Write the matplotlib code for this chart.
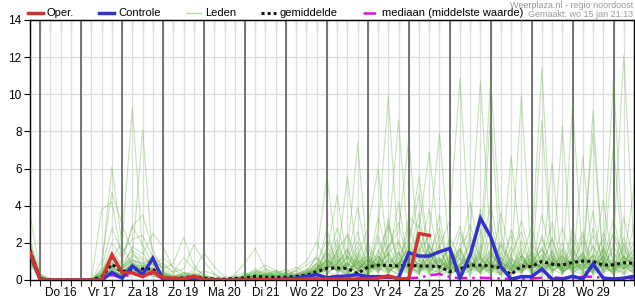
import numpy as np
import pandas as pd
import matplotlib
matplotlib.use("Agg")
from matplotlib import pyplot as plt
from matplotlib.lines import Line2D

plt.rcParams['font.family'] = ['Liberation Sans', 'DejaVu Sans']

# tijdstappen van 6 uur, vanaf wo 15 jan 18:00
times = pd.date_range("2025-01-15 18:00", periods=60, freq="6h")
day_noons = pd.date_range("2025-01-16 12:00", periods=14, freq="D")
midnights = pd.date_range("2025-01-16 00:00", periods=15, freq="D")
day_labels = ["Do 16", "Vr 17", "Za 18", "Zo 19", "Ma 20", "Di 21", "Wo 22",
              "Do 23", "Vr 24", "Za 25", "Zo 26", "Ma 27", "Di 28", "Wo 29"]

# operationele run (loopt tot za 25 12:00)
oper = [1.5, 0, 0, 0, 0, 0, 0, 0, 1.35, 0.4,
        0.38, 0.18, 0.45, 0.12, 0.1, 0.05, 0.2, 0.03, 0, 0,
        0, 0, 0.02, 0.02, 0, 0.02, 0.03, 0.05, 0.05, 0.05,
        0.05, 0.05, 0.05, 0.05, 0.1, 0.23, 0.05, 0.08, 2.5, 2.4]

controle = [1.45, 0, 0, 0, 0, 0, 0, 0, 0.4, 0.1,
            0.75, 0.3, 1.17, 0, 0, 0.02, 0.05, 0, 0, 0,
            0, 0, 0, 0, 0.02, 0.05, 0.1, 0.2, 0.29, 0.12,
            0.18, 0.22, 0.29, 0.18, 0.18, 0.18, 0.1, 1.47, 1.29, 1.29,
            1.52, 1.7, 0.1, 1.35, 3.32, 2.33, 0.72, 0.05, 0.18, 0.18,
            0.59, 0.05, 0.05, 0.2, 0.05, 0.86, 0.1, 0.05, 0.1, 0.2]

gemiddelde = [1.6, 0.05, 0, 0, 0, 0, 0.02, 0.15, 0.85, 0.45,
              0.55, 0.6, 0.6, 0.1, 0.08, 0.12, 0.2, 0.1, 0.05, 0.05,
              0.08, 0.1, 0.2, 0.15, 0.15, 0.15, 0.2, 0.25, 0.45, 0.63,
              0.65, 0.62, 0.35, 0.7, 0.8, 0.78, 0.75, 0.8, 0.75, 0.75,
              0.72, 0.45, 0.6, 0.8, 0.8, 0.75, 0.65, 0.3, 0.75, 0.72,
              1.0, 0.85, 0.8, 0.95, 1.02, 1.0, 0.8, 0.82, 0.93, 0.9]

mediaan = [1.5, 0.02, 0, 0, 0, 0, 0, 0, 0.27, 0.1,
           0.35, 0.2, 0.35, 0.05, 0.02, 0.02, 0.03, 0.02, 0, 0,
           0, 0, 0.02, 0.02, 0.02, 0.02, 0.03, 0.05, 0.1, 0.15,
           0.22, 0.2, 0.1, 0.08, 0.1, 0.12, 0.1, 0.1, 0.12, 0.25,
           0.32, 0.15, 0.1, 0.1, 0.12, 0.1, 0.08, 0.05, 0.05, 0.08,
           0.12, 0.15, 0.1, 0.1, 0.18, 0.18, 0.1, 0.08, 0.05, 0.05]

# ensemble leden
leden = [
    [3.6, 0.3, 0, 0, 0, 0, 0, 0.4, 1.2, 2.0, 9.3, 1.5, 0.6, 0.2, 0, 0.1, 0.3, 0.1, 0, 0,
     0, 0.1, 0.2, 0.3, 0.1, 0, 0.2, 0.4, 0.6, 1.0, 0.8, 0.3, 1.2, 0.5, 2.1, 0.9, 0.4, 1.6, 0.7, 0.3,
     1.1, 0.2, 0.8, 1.9, 0.6, 9.0, 0.7, 0.2, 1.3, 0.5, 0.9, 2.2, 0.4, 0.8, 1.5, 0.3, 0.6, 1.8, 0.9, 1.2],
    [2.0, 0.2, 0, 0, 0, 0, 0, 0.2, 0.9, 0.5, 1.2, 8.1, 1.0, 0.3, 0.1, 0, 0, 0, 0, 0,
     0.1, 0, 0, 0.2, 0.4, 0.2, 0.1, 0.3, 0.9, 0.4, 1.6, 2.4, 0.6, 0.2, 0.9, 1.8, 3.1, 0.7, 0.4, 1.2,
     0.3, 0.5, 2.6, 0.9, 0.4, 1.1, 0.3, 6.65, 1.4, 0.6, 0.2, 0.8, 1.7, 0.5, 0.3, 2.8, 1.0, 0.4, 0.7, 2.1],
    [1.6, 0.1, 0, 0, 0, 0, 0, 0.6, 6.1, 1.8, 0.8, 0.5, 0.3, 0.1, 0, 0, 0.2, 0, 0, 0,
     0, 0, 0.3, 0.1, 0, 0, 0, 0.2, 0.5, 2.8, 0.6, 0.3, 1.1, 0.4, 0.7, 0.3, 1.3, 2.2, 0.5, 0.9,
     3.5, 0.4, 1.2, 0.2, 2.7, 0.6, 0.3, 1.0, 9.9, 0.8, 0.4, 1.6, 0.3, 2.4, 0.7, 0.5, 1.3, 0.2, 3.4, 0.8],
    [1.2, 0.1, 0, 0, 0, 0, 0, 1.0, 4.7, 3.0, 1.5, 0.7, 0.4, 0.2, 0, 0.3, 0.1, 0, 0, 0,
     0, 0.2, 0, 0, 0.1, 0.3, 0.2, 0, 0.3, 0.8, 2.2, 0.5, 0.3, 1.4, 0.6, 2.9, 0.8, 0.4, 1.7, 0.3,
     0.6, 1.3, 0.5, 0.7, 3.8, 0.9, 0.2, 0.6, 0.4, 1.5, 11.4, 0.9, 0.5, 1.2, 2.6, 0.4, 0.8, 1.1, 0.3, 0.6],
    [1.4, 0.2, 0, 0, 0, 0, 0, 3.8, 4.2, 1.0, 2.9, 1.9, 0.8, 0.3, 0.1, 0, 0, 0.1, 0, 0,
     0, 0, 0.1, 0.4, 0.2, 0, 0.3, 0.5, 1.2, 0.4, 0.3, 1.0, 2.6, 0.5, 1.3, 0.6, 0.3, 3.0, 1.1, 0.5,
     0.8, 0.3, 1.7, 0.6, 0.4, 2.3, 1.0, 0.5, 0.9, 0.3, 8.6, 0.7, 1.4, 0.3, 0.9, 3.7, 0.4, 0.6, 1.9, 0.4],
    [1.1, 0.05, 0, 0, 0, 0, 0, 0.3, 2.0, 1.2, 2.9, 3.5, 1.6, 0.5, 0.2, 0.1, 0, 0, 0, 0,
     0.2, 0.4, 0.1, 0, 0, 0.1, 0.4, 0.2, 0.7, 1.6, 0.4, 0.9, 0.3, 1.8, 0.5, 1.1, 4.2, 0.6, 0.3, 2.0,
     0.5, 0.9, 0.4, 2.2, 0.7, 0.3, 1.5, 0.6, 1.1, 2.9, 0.5, 6.3, 0.4, 0.8, 0.3, 1.0, 2.2, 0.5, 1.3, 0.7],
    [1.3, 0.1, 0, 0, 0, 0, 0, 0, 1.1, 0.6, 1.8, 1.4, 2.5, 1.8, 0.6, 0.2, 0, 0, 0, 0,
     0, 0, 0.3, 0.2, 0.1, 0, 0, 0.1, 0.4, 1.1, 0.7, 0.2, 0.9, 0.4, 2.4, 0.6, 0.3, 1.2, 3.6, 0.4,
     1.0, 0.6, 0.3, 1.4, 0.5, 3.2, 0.7, 0.3, 0.9, 0.5, 1.8, 0.4, 8.25, 0.6, 1.2, 0.3, 0.8, 2.5, 0.4, 1.5],
    [0.9, 0.1, 0, 0, 0, 0, 0, 0.1, 0.7, 0.4, 1.0, 0.9, 1.1, 0.6, 0.9, 2.3, 0.8, 0.2, 0.1, 0,
     0, 0.1, 0.5, 0.3, 0, 0, 0.2, 0.3, 0.2, 0.6, 1.3, 0.4, 0.2, 0.8, 0.5, 1.9, 0.7, 0.3, 1.0, 2.5,
     0.4, 0.7, 1.6, 0.3, 0.8, 0.5, 2.1, 0.9, 0.4, 1.2, 0.3, 1.0, 0.6, 9.46, 0.9, 0.4, 1.7, 0.6, 0.3, 1.1],
    [1.5, 0.2, 0, 0, 0, 0, 0, 0.2, 0.5, 0.3, 0.6, 0.4, 0.7, 0.9, 0.4, 0.6, 1.9, 1.0, 0.3, 0,
     0.3, 0.9, 1.7, 0.6, 0.2, 0.1, 0, 0.2, 0.5, 0.3, 0.9, 1.6, 0.5, 0.3, 1.1, 0.6, 2.0, 0.8, 0.4, 0.7,
     1.9, 0.3, 0.6, 1.0, 0.5, 0.8, 0.3, 1.4, 2.6, 0.6, 0.9, 0.3, 1.2, 0.5, 6.65, 0.8, 0.4, 1.0, 2.3, 0.5],
    [1.8, 0.1, 0, 0, 0, 0, 0, 0, 0.4, 0.2, 0.5, 0.3, 0.6, 0.4, 0.2, 0.3, 0.5, 1.47, 0.7, 0.2,
     0.1, 0.2, 0.4, 0.8, 0.5, 0.2, 0.6, 1.0, 2.06, 0.9, 0.5, 0.3, 1.4, 0.6, 0.8, 3.3, 0.5, 0.9, 0.3, 1.5,
     0.6, 2.0, 0.4, 0.8, 1.2, 0.5, 0.3, 0.7, 1.3, 0.4, 2.4, 0.6, 0.3, 1.0, 0.5, 9.1, 0.7, 0.4, 0.9, 0.3],
    [1.0, 0.05, 0, 0, 0, 0, 0, 0.1, 0.3, 0.2, 0.4, 0.6, 0.3, 0.2, 0.1, 0.4, 0.2, 0.5, 0.3, 0.1,
     0, 0, 0.2, 0.1, 0.3, 0.6, 0.2, 0.4, 1.3, 5.65, 1.2, 0.4, 0.7, 0.3, 1.6, 0.5, 0.9, 0.3, 1.1, 0.6,
     2.4, 0.8, 0.3, 0.5, 1.3, 0.7, 0.4, 1.8, 0.6, 0.9, 0.4, 1.1, 0.5, 0.7, 1.4, 7.9, 0.9, 0.3, 0.6, 1.4],
    [1.7, 0.2, 0, 0, 0, 0, 0, 0.3, 0.9, 0.5, 0.7, 0.8, 0.5, 0.3, 0.1, 0, 0.2, 0.1, 0, 0,
     0, 0.3, 0.1, 0.2, 0.4, 0.3, 0.5, 0.2, 0.6, 1.4, 4.58, 0.9, 0.4, 1.2, 0.5, 0.8, 1.5, 0.4, 2.2, 0.7,
     0.3, 1.1, 0.5, 0.9, 0.4, 1.6, 0.5, 0.3, 0.8, 1.2, 0.5, 0.9, 2.0, 0.4, 0.7, 1.1, 4.3, 0.6, 0.4, 0.8],
    [1.3, 0.1, 0, 0, 0, 0, 0, 0, 0.6, 0.4, 0.9, 0.5, 0.4, 0.2, 0.1, 0.2, 0.4, 0.2, 0.1, 0,
     0.2, 0.1, 0, 0.3, 0.2, 0.4, 0.7, 0.3, 0.9, 2.2, 1.0, 5.57, 0.8, 0.5, 1.3, 0.4, 0.9, 1.7, 0.5, 0.8,
     1.2, 0.4, 0.7, 1.5, 0.3, 0.6, 1.0, 0.4, 2.1, 0.7, 1.4, 0.5, 0.9, 1.8, 0.4, 0.6, 1.3, 10.86, 0.9, 0.5],
    [1.1, 0.1, 0, 0, 0, 0, 0, 0.2, 0.5, 0.3, 0.6, 0.4, 0.3, 0.1, 0, 0.1, 0.3, 0.2, 0.1, 0,
     0, 0.2, 0.4, 0.2, 0, 0.2, 0.3, 0.6, 0.4, 1.8, 0.9, 1.4, 7.36, 1.0, 0.6, 1.5, 0.5, 0.7, 0.4, 1.9,
     0.6, 0.8, 1.4, 0.5, 0.9, 0.3, 1.2, 0.7, 0.5, 1.0, 0.6, 1.5, 0.4, 0.9, 2.1, 0.5, 0.8, 7.3, 0.6, 1.2],
    [0.8, 0.05, 0, 0, 0, 0, 0, 0.1, 0.4, 0.3, 0.5, 0.6, 0.2, 0.1, 0, 0, 0.1, 0, 0, 0,
     0.1, 0, 0.2, 0.1, 0.3, 0.2, 0.1, 0.4, 0.8, 0.5, 1.6, 0.7, 1.2, 2.8, 6.0, 1.2, 0.6, 0.9, 0.5, 1.3,
     0.7, 0.5, 1.2, 0.8, 0.4, 1.0, 0.6, 2.4, 0.5, 0.8, 1.1, 0.4, 1.6, 0.6, 0.9, 1.3, 0.5, 2.0, 12.1, 1.6],
    [1.4, 0.1, 0, 0, 0, 0, 0, 0.2, 0.7, 0.5, 0.8, 0.6, 0.4, 0.2, 0.1, 0.2, 0.1, 0, 0, 0,
     0, 0.1, 0.3, 0.5, 0.2, 0, 0.1, 0.3, 0.6, 1.0, 0.5, 1.3, 0.9, 0.4, 2.7, 9.9, 1.4, 0.6, 0.9, 0.4,
     1.5, 0.6, 0.8, 0.4, 1.9, 0.7, 0.5, 1.1, 0.4, 0.9, 1.7, 0.5, 0.8, 1.2, 0.4, 0.7, 1.6, 0.5, 0.9, 5.0],
    [1.2, 0.1, 0, 0, 0, 0, 0, 0.1, 0.6, 0.4, 0.7, 0.5, 0.6, 0.3, 0.2, 0.4, 0.3, 0.1, 0, 0,
     0, 0, 0.1, 0.3, 0.5, 0.4, 0.2, 0.5, 0.3, 0.7, 1.1, 0.6, 1.8, 0.5, 1.0, 2.3, 8.6, 1.5, 0.7, 0.5,
     0.9, 1.6, 0.4, 0.7, 1.1, 0.5, 1.9, 0.6, 0.3, 1.0, 0.7, 2.3, 0.5, 0.9, 1.4, 0.6, 0.8, 0.4, 1.7, 0.6],
    [1.6, 0.2, 0, 0, 0, 0, 0, 0.3, 1.0, 0.7, 1.3, 1.0, 0.5, 0.4, 0.2, 0.1, 0, 0, 0, 0,
     0, 0.2, 0.6, 0.3, 0.1, 0, 0, 0.2, 0.7, 0.4, 0.8, 1.7, 0.5, 1.1, 0.4, 1.8, 2.6, 7.6, 1.3, 0.6,
     0.4, 0.9, 1.7, 0.5, 0.8, 0.4, 1.2, 0.6, 1.5, 0.3, 0.9, 0.6, 1.3, 0.5, 0.8, 1.9, 0.4, 1.1, 0.6, 0.9],
    [1.0, 0.1, 0, 0, 0, 0, 0, 0, 0.3, 0.2, 0.5, 0.3, 0.2, 0.1, 0.1, 0.3, 0.2, 0, 0, 0,
     0, 0, 0.2, 0.1, 0.3, 0.1, 0.2, 0.1, 0.4, 0.8, 0.5, 0.9, 1.5, 0.7, 1.2, 0.5, 0.8, 2.0, 5.57, 1.4,
     0.6, 1.2, 0.5, 0.9, 0.4, 1.4, 0.6, 0.3, 1.0, 0.7, 1.3, 0.5, 0.9, 0.4, 1.2, 0.6, 1.8, 0.5, 0.8, 0.4],
    [1.5, 0.1, 0, 0, 0, 0, 0, 0.4, 0.8, 0.6, 1.0, 0.7, 0.5, 0.3, 0.1, 0, 0, 0.1, 0, 0,
     0, 0.1, 0.3, 0.2, 0, 0.1, 0.3, 0.2, 0.5, 1.2, 0.6, 0.4, 1.0, 0.5, 0.9, 1.4, 0.6, 3.4, 2.8, 6.9,
     1.7, 0.5, 0.8, 1.3, 0.6, 0.9, 0.4, 1.2, 0.7, 1.6, 0.4, 0.8, 1.1, 0.6, 0.9, 0.5, 1.3, 0.7, 1.0, 0.5],
    [1.3, 0.1, 0, 0, 0, 0, 0, 0.2, 0.5, 0.3, 0.6, 0.5, 0.3, 0.2, 0, 0.1, 0.2, 0.1, 0, 0,
     0, 0, 0.1, 0.2, 0.1, 0.3, 0.2, 0.4, 0.3, 0.6, 0.9, 0.5, 1.1, 0.4, 1.3, 0.7, 0.9, 0.5, 1.6, 2.4,
     7.9, 1.3, 0.6, 1.0, 0.5, 1.4, 0.7, 0.9, 0.5, 1.2, 0.6, 1.0, 0.5, 1.7, 0.8, 0.4, 1.0, 0.6, 1.3, 0.7],
    [1.7, 0.2, 0, 0, 0, 0, 0, 0.3, 0.7, 0.4, 0.9, 0.6, 0.4, 0.2, 0.1, 0, 0, 0, 0, 0,
     0.1, 0.3, 0.2, 0, 0.2, 0.1, 0.3, 0.5, 0.9, 0.4, 0.7, 1.2, 0.6, 0.9, 0.4, 1.1, 0.7, 1.4, 0.5, 0.9,
     1.8, 3.2, 10.86, 1.6, 0.7, 0.5, 1.0, 0.6, 1.3, 0.4, 0.8, 1.2, 0.6, 0.9, 0.5, 1.4, 0.8, 0.5, 1.0, 1.6],
    [1.2, 0.1, 0, 0, 0, 0, 0, 0.1, 0.4, 0.3, 0.7, 0.4, 0.3, 0.2, 0, 0.1, 0.3, 0.2, 0.1, 0,
     0, 0.1, 0, 0.1, 0.2, 0.4, 0.3, 0.1, 0.5, 0.9, 1.4, 0.6, 0.8, 0.3, 0.9, 0.5, 1.2, 0.7, 0.9, 0.6,
     1.1, 0.7, 1.5, 4.2, 1.2, 0.6, 0.9, 0.5, 0.8, 1.4, 0.6, 0.9, 0.4, 1.1, 0.7, 1.3, 0.5, 0.9, 0.6, 1.0],
    [1.9, 0.2, 0, 0, 0, 0, 0, 0.5, 1.3, 0.8, 1.1, 0.8, 0.6, 0.3, 0.1, 0.2, 0, 0, 0, 0,
     0, 0.2, 0.4, 0.1, 0, 0.2, 0.1, 0.3, 0.6, 1.1, 0.5, 0.8, 1.3, 0.6, 1.0, 0.4, 0.9, 1.2, 0.6, 1.8,
     0.9, 0.6, 1.9, 2.5, 10.7, 1.8, 0.8, 0.5, 1.1, 0.6, 1.2, 0.7, 1.0, 0.5, 1.3, 0.6, 0.9, 1.5, 0.7, 0.4],
    [1.4, 0.1, 0, 0, 0, 0, 0, 0.2, 0.6, 0.4, 0.8, 0.5, 0.4, 0.1, 0, 0, 0.1, 0, 0, 0,
     0.2, 0, 0.1, 0.3, 0.2, 0, 0.2, 0.4, 0.3, 0.7, 1.0, 0.5, 0.9, 1.3, 0.7, 1.0, 0.5, 0.8, 1.3, 0.7,
     1.2, 0.5, 0.9, 0.7, 1.6, 10.8, 2.5, 0.8, 0.5, 1.0, 0.7, 1.3, 0.6, 0.9, 0.5, 1.1, 0.7, 0.4, 1.2, 0.8],
    [1.1, 0.1, 0, 0, 0, 0, 0, 0.6, 2.8, 1.5, 2.2, 2.4, 1.2, 0.6, 0.3, 0.2, 0.1, 0, 0, 0,
     0, 0.3, 0.5, 0.2, 0.1, 0, 0.1, 0.2, 0.5, 0.9, 2.8, 1.1, 3.9, 1.2, 0.6, 1.4, 2.1, 0.8, 3.0, 1.0,
     0.5, 2.3, 1.1, 0.6, 1.5, 0.8, 3.6, 1.2, 0.5, 2.0, 1.0, 3.1, 0.7, 1.5, 0.9, 2.4, 1.0, 3.3, 0.8, 1.7],
    [2.2, 0.3, 0.1, 0, 0, 0, 0, 0.4, 1.5, 0.9, 1.6, 1.2, 0.9, 0.4, 0.2, 0.1, 0, 0, 0, 0,
     0.1, 0, 0.2, 0.4, 0.3, 0.1, 0, 0.3, 0.6, 1.5, 0.8, 2.5, 1.0, 0.6, 3.4, 1.2, 0.7, 1.9, 4.6, 1.3,
     2.8, 0.7, 1.3, 3.0, 0.9, 1.6, 0.6, 2.7, 1.1, 0.6, 3.5, 1.2, 0.6, 2.8, 1.0, 0.7, 2.5, 1.1, 0.6, 3.0],
    [1.3, 0.1, 0, 0, 0, 0, 0, 0.2, 0.8, 0.6, 1.4, 1.1, 0.8, 1.2, 0.7, 0.4, 0.2, 0.1, 0, 0,
     0, 0.1, 0.3, 0.6, 0.4, 0.2, 0.5, 0.8, 1.2, 0.6, 1.9, 0.7, 2.1, 0.9, 1.4, 3.0, 1.1, 0.6, 1.3, 3.8,
     1.0, 1.8, 0.7, 2.4, 1.2, 0.6, 1.9, 0.8, 3.2, 1.0, 1.6, 0.9, 2.8, 1.1, 0.6, 1.8, 0.9, 2.6, 1.2, 0.8],
    [1.0, 0.1, 0, 0, 0, 0, 0, 0, 0.5, 0.3, 0.9, 0.7, 1.3, 0.8, 0.4, 1.2, 0.6, 0.3, 0.1, 0,
     0, 0, 0.1, 0.2, 0.5, 0.3, 0.2, 0.4, 0.7, 1.0, 0.6, 1.3, 0.5, 2.0, 0.9, 0.6, 1.5, 0.8, 2.3, 0.9,
     0.6, 1.4, 2.9, 0.8, 1.3, 4.1, 1.0, 0.6, 1.7, 0.9, 2.2, 0.8, 1.3, 0.7, 2.4, 0.9, 1.2, 0.6, 2.0, 0.8],
    [1.6, 0.2, 0, 0, 0, 0, 0, 0.3, 0.9, 0.6, 1.1, 0.9, 0.5, 0.3, 0.1, 0, 0, 0, 0, 0,
     0, 0.2, 0.1, 0, 0.1, 0.2, 0.1, 0.2, 0.4, 0.8, 0.5, 0.9, 0.6, 1.1, 0.7, 0.4, 1.0, 0.6, 0.8, 1.5,
     0.7, 1.0, 0.5, 0.9, 0.6, 1.2, 0.5, 0.8, 0.6, 1.1, 0.5, 0.9, 0.7, 1.2, 0.6, 0.8, 1.0, 0.6, 0.9, 0.7],
]

red = '#d23232'
blue = '#3232cc'
green = '#5aa83a'
magenta = '#e010e0'

fig = plt.figure(figsize=(6.35, 3.0), dpi=100)
ax = fig.add_axes([30 / 635, 20 / 300, 604 / 635, 260 / 300])

for lid in leden:
    ax.plot(times, lid, color=green, lw=0.8, alpha=0.33, zorder=2)
ax.plot(times, gemiddelde, color='#111111', lw=2.2, linestyle=(0, (1, 1)), zorder=4)
ax.plot(times, mediaan, color=magenta, lw=1.8, linestyle=(0, (5, 2, 1, 2)), zorder=5)
ax.plot(times, controle, color=blue, lw=2.5, zorder=6, solid_joinstyle='miter')
ax.plot(times[:len(oper)], oper, color=red, lw=2.5, zorder=7, solid_joinstyle='miter')

for m in midnights:
    ax.axvline(m, color='#555555', lw=1.1, zorder=1.5)

ax.set_xlim(times[0], times[-1])
ax.set_ylim(0, 14)
ax.set_yticks(range(0, 15, 2))
ax.set_xticks(day_noons)
ax.set_xticklabels(day_labels)
ax.set_xticks(times, minor=True)
ax.grid(True, which='both', color='#dddddd', lw=0.9, zorder=1)
ax.set_axisbelow(True)
ax.tick_params(axis='x', which='both', length=4, width=0.8, pad=1, labelsize=8.5, color='#222222')
ax.tick_params(axis='y', length=4, width=0.8, pad=2, labelsize=8.5)
for s in ax.spines.values():
    s.set_color('black')
    s.set_linewidth(1.0)

top = ax.secondary_xaxis('top')
top.set_xticks(times)
top.set_xticklabels([])
top.tick_params(direction='in', length=8, width=0.8, color='#444444')

handles = [Line2D([], [], color=red, lw=2.5),
           Line2D([], [], color=blue, lw=2.5),
           Line2D([], [], color='#b5d9a5', lw=1.0),
           Line2D([], [], color='#111111', lw=2.2, linestyle=(0, (1, 1))),
           Line2D([], [], color=magenta, lw=1.8, linestyle=(0, (5, 2, 1, 2)))]
labels = ["Oper.", "Controle", "Leden", "gemiddelde", "mediaan (middelste waarde)"]
fig.legend(handles, labels, ncol=5, loc='center left', bbox_to_anchor=(0.044, 0.955),
           frameon=False, fontsize=8, handlelength=1.35, handletextpad=0.36,
           columnspacing=2.25, borderaxespad=0, borderpad=0)

fig.text(0.997, 0.995, "Weerplaza.nl - regio noordoost", ha='right', va='top',
         fontsize=6.5, color='#999999')
fig.text(0.997, 0.953, "Gemaakt: wo 15 jan 21:13", ha='right', va='center',
         fontsize=6.5, color='#999999')

fig.savefig("out.png", dpi=100)
